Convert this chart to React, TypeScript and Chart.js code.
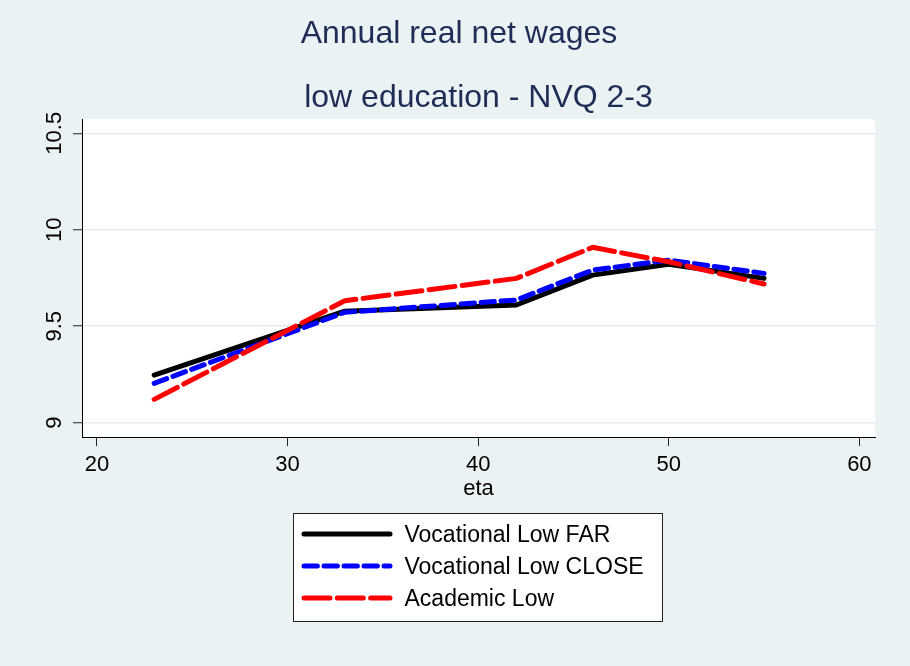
import React, { useEffect, useRef } from 'react';
import { Chart, registerables } from 'chart.js';

Chart.register(...registerables);

// ---- data ----
const ages = [23, 33, 42, 46, 50, 55];
const vocationalFar = [9.247, 9.578, 9.61, 9.765, 9.821, 9.748];
const vocationalClose = [9.204, 9.572, 9.636, 9.791, 9.843, 9.774];
const academicLow = [9.121, 9.632, 9.748, 9.909, 9.834, 9.719];
const seriesLabels = ['Vocational Low FAR', 'Vocational Low CLOSE', 'Academic Low'];
const xTicks = [20, 30, 40, 50, 60];
const yTicks = [9, 9.5, 10, 10.5];
const titleText = 'Annual real net wages';
const subtitleText = 'low education - NVQ 2-3';
const xAxisTitle = 'eta';

const FONT = "'Liberation Sans', Arial, Helvetica, sans-serif";
const BG = '#EAF2F3';
const NAVY = '#1E2D55';

const backgroundPlugin = {
  id: 'stataBackground',
  beforeDraw(chart: any) {
    const { ctx, chartArea, width, height } = chart;
    ctx.save();
    ctx.fillStyle = BG;
    ctx.fillRect(0, 0, width, height);
    ctx.fillStyle = '#FFFFFF';
    ctx.fillRect(chartArea.left, chartArea.top, chartArea.right - chartArea.left, chartArea.bottom - chartArea.top);
    ctx.restore();
  },
};

const boxLegendPlugin = {
  id: 'boxLegend',
  afterDraw(chart: any) {
    const { ctx, chartArea } = chart;
    const cx = (chartArea.left + chartArea.right) / 2;
    const bx = Math.round(cx - 185.5) + 0.5;
    const by = Math.round(chartArea.bottom + 76) + 0.5;
    const bw = 369;
    const bh = 108;
    ctx.save();
    ctx.fillStyle = '#FFFFFF';
    ctx.fillRect(bx, by, bw, bh);
    ctx.strokeStyle = '#222222';
    ctx.lineWidth = 1;
    ctx.setLineDash([]);
    ctx.strokeRect(bx, by, bw, bh);
    chart.data.datasets.forEach((ds: any, i: number) => {
      const y = by - 0.5 + 21 + 32 * i;
      ctx.beginPath();
      ctx.strokeStyle = ds.borderColor;
      ctx.lineWidth = ds.borderWidth;
      ctx.lineCap = 'round';
      ctx.setLineDash(ds.borderDash || []);
      ctx.moveTo(bx + 10.5, y);
      ctx.lineTo(bx + 96.5, y);
      ctx.stroke();
      ctx.setLineDash([]);
      ctx.fillStyle = '#000000';
      ctx.font = `23px ${FONT}`;
      ctx.textAlign = 'left';
      ctx.textBaseline = 'middle';
      ctx.fillText(ds.label, bx + 111, y + 1.5);
    });
    ctx.restore();
  },
};

const tickCb = (v: any) => String(v);

export default function App() {
  const ref = useRef<HTMLCanvasElement>(null);

  useEffect(() => {
    Chart.defaults.font.family = FONT;
    const mk = (vals: number[]) => ages.map((x, i) => ({ x, y: vals[i] }));
    const chart = new Chart(ref.current as HTMLCanvasElement, {
      type: 'line',
      data: {
        datasets: [
          {
            label: seriesLabels[0],
            data: mk(vocationalFar),
            borderColor: '#000000',
            borderWidth: 5,
            borderDash: [],
            borderCapStyle: 'round',
            borderJoinStyle: 'round',
            pointRadius: 0,
            fill: false,
            tension: 0,
            order: 3,
          },
          {
            label: seriesLabels[1],
            data: mk(vocationalClose),
            borderColor: '#0000FF',
            borderWidth: 5,
            borderDash: [13.4, 6.6],
            borderCapStyle: 'round',
            borderJoinStyle: 'round',
            pointRadius: 0,
            fill: false,
            tension: 0,
            order: 2,
          },
          {
            label: seriesLabels[2],
            data: mk(academicLow),
            borderColor: '#FF0000',
            borderWidth: 5,
            borderDash: [26, 7.3],
            borderCapStyle: 'round',
            borderJoinStyle: 'round',
            pointRadius: 0,
            fill: false,
            tension: 0,
            order: 1,
          },
        ],
      } as any,
      options: {
        responsive: false,
        animation: false,
        devicePixelRatio: 1,
        layout: { padding: { left: 43, right: 35, top: 0, bottom: 164 } },
        scales: {
          x: {
            type: 'linear',
            min: 19.213,
            max: 60.82,
            afterBuildTicks: (s: any) => {
              s.ticks = xTicks.map((v) => ({ value: v }));
            },
            afterFit: (s: any) => {
              s.height = 65;
            },
            grid: {
              drawOnChartArea: false,
              drawTicks: true,
              tickLength: 9,
              tickColor: '#222222',
              tickWidth: 1,
            },
            border: { display: true, color: '#000000', width: 1 },
            ticks: {
              font: { size: 22 },
              color: '#000000',
              padding: 6,
              maxRotation: 0,
              autoSkip: false,
              callback: tickCb,
            },
            title: {
              display: true,
              text: xAxisTitle,
              font: { size: 22 },
              color: '#000000',
              padding: { top: 0, bottom: 0 },
            },
          },
          y: {
            type: 'linear',
            min: 8.926,
            max: 10.574,
            afterBuildTicks: (s: any) => {
              s.ticks = yTicks.map((v) => ({ value: v }));
            },
            afterFit: (s: any) => {
              s.width = 39;
            },
            grid: {
              color: '#E4ECEE',
              lineWidth: 1.5,
              drawTicks: true,
              tickLength: 9,
              tickColor: '#222222',
              tickWidth: 1,
            },
            border: { display: true, color: '#000000', width: 1 },
            ticks: {
              minRotation: 90,
              maxRotation: 90,
              crossAlign: 'center',
              padding: -3,
              font: { size: 22 },
              color: '#000000',
              autoSkip: false,
              callback: tickCb,
            },
          },
        },
        plugins: {
          legend: { display: false },
          tooltip: { enabled: false },
          title: {
            display: true,
            text: titleText,
            color: NAVY,
            font: { size: 32, weight: 'normal' },
            padding: { top: 15.3, bottom: 0 },
            fullSize: true,
          },
          subtitle: {
            display: true,
            text: subtitleText,
            color: NAVY,
            font: { size: 32, weight: 'normal' },
            padding: { top: 24.8, bottom: 2.1 },
            fullSize: false,
          },
        },
      } as any,
      plugins: [backgroundPlugin, boxLegendPlugin],
    });
    return () => chart.destroy();
  }, []);

  return (
    <div style={{ position: 'absolute', left: 0, top: 0, width: 910, height: 666 }}>
      <canvas ref={ref} width={910} height={666} style={{ display: 'block' }} />
    </div>
  );
}
